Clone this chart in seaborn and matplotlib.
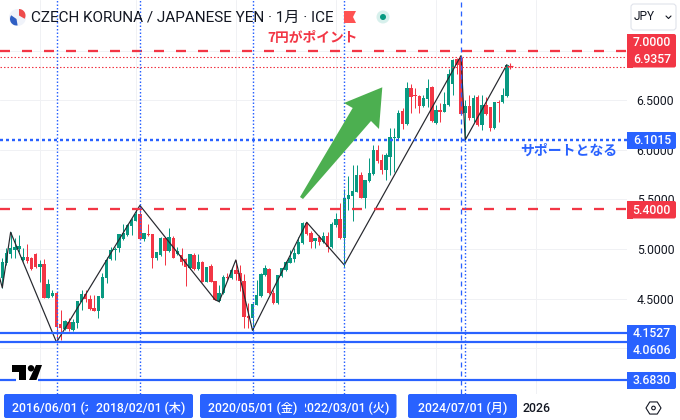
import numpy as np
import pandas as pd
import matplotlib
matplotlib.use("Agg")
import matplotlib.pyplot as plt
from matplotlib.patches import FancyBboxPatch, Polygon, Circle, Wedge, Rectangle
import seaborn as sns

months = pd.date_range("2015-05-01", periods=122, freq="MS")
opens = [4.71,4.86,4.95,4.99,5.00,4.89,4.92,4.91,4.95,4.82,4.85,4.51,4.53,4.56,4.24,4.19,4.26,4.18,4.25,4.47,
         4.55,4.50,4.41,4.38,4.51,4.71,4.90,4.99,5.01,5.10,5.14,5.23,5.28,5.35,5.10,5.15,5.15,4.91,4.94,5.11,
         4.98,5.11,4.95,4.94,4.90,4.81,4.94,4.80,4.87,4.67,4.83,4.68,4.48,4.56,4.72,4.71,4.79,4.76,4.68,4.32,
         4.31,4.44,4.53,4.74,4.80,4.56,4.46,4.73,4.79,4.86,4.90,4.95,5.06,5.26,5.16,5.08,5.12,5.07,5.13,5.02,
         5.24,5.30,5.11,5.50,5.54,5.58,5.75,5.51,5.69,5.76,6.00,5.90,5.80,5.93,6.12,6.12,6.39,6.26,6.62,6.55,
         6.54,6.44,6.51,6.63,6.27,6.40,6.38,6.45,6.66,6.92,6.93,6.37,6.44,6.32,6.53,6.25,6.45,6.43,6.22,6.48,
         6.48,6.54]
highs = [4.91,5.01,5.17,5.11,5.14,5.01,5.05,4.92,4.96,4.89,4.90,4.70,4.59,4.56,4.39,4.28,4.31,4.30,4.48,4.59,
         4.59,4.54,4.54,4.53,4.76,4.92,5.02,5.02,5.15,5.25,5.25,5.31,5.41,5.44,5.16,5.25,5.15,4.97,5.12,5.12,
         5.21,5.13,5.02,5.01,4.91,4.95,4.96,4.95,4.88,4.82,4.85,4.68,4.64,4.74,4.76,4.81,4.89,4.84,4.75,4.46,
         4.46,4.69,4.76,4.84,4.81,4.59,4.74,4.81,4.88,4.99,5.01,5.12,5.27,5.27,5.18,5.11,5.14,5.17,5.17,5.27,
         5.36,5.46,5.61,5.74,5.85,5.85,5.78,5.70,5.92,6.05,6.05,5.96,5.97,6.22,6.22,6.40,6.42,6.68,6.66,6.62,
         6.55,6.55,6.71,6.64,6.45,6.47,6.58,6.82,6.92,6.93,6.95,6.50,6.55,6.55,6.55,6.55,6.53,6.43,6.48,6.50,
         6.62,6.86]
lows = [4.61,4.84,4.91,4.91,4.97,4.88,4.86,4.79,4.81,4.67,4.51,4.51,4.52,4.05,4.08,4.18,4.17,4.17,4.20,4.39,
        4.47,4.39,4.38,4.31,4.51,4.66,4.89,4.89,4.97,5.09,5.13,5.14,5.28,5.10,5.08,5.13,4.81,4.89,4.93,4.84,
        4.97,4.91,4.94,4.84,4.63,4.80,4.79,4.79,4.67,4.67,4.67,4.49,4.47,4.55,4.69,4.70,4.69,4.58,4.20,4.20,
        4.17,4.44,4.52,4.73,4.55,4.45,4.45,4.72,4.78,4.86,4.87,4.95,5.05,5.14,5.01,5.01,5.04,5.06,4.97,5.01,
        5.22,5.10,4.82,5.39,5.28,5.58,5.51,5.41,5.68,5.75,5.87,5.76,5.70,5.75,5.78,6.11,6.21,6.25,6.37,6.42,
        6.37,6.43,6.43,6.28,6.26,6.28,6.38,6.44,6.55,6.77,6.35,6.10,6.30,6.28,6.24,6.20,6.35,6.19,6.21,6.28,
        6.47,6.53]
closes = [4.87,4.96,5.01,5.02,5.03,4.92,4.88,4.80,4.82,4.85,4.51,4.65,4.56,4.21,4.20,4.27,4.19,4.26,4.48,4.55,
          4.50,4.40,4.38,4.53,4.72,4.89,4.99,5.00,5.15,5.16,5.24,5.29,5.35,5.10,5.16,5.14,4.91,4.97,5.11,4.98,
          5.12,4.91,4.98,4.87,4.82,4.95,4.80,4.87,4.67,4.82,4.67,4.49,4.56,4.72,4.71,4.79,4.75,4.68,4.32,4.31,
          4.45,4.54,4.75,4.81,4.56,4.46,4.74,4.81,4.87,4.91,4.96,5.07,5.26,5.15,5.07,5.11,5.07,5.13,5.02,5.25,
          5.30,5.11,5.51,5.55,5.59,5.75,5.51,5.70,5.77,6.00,5.89,5.80,5.95,6.13,6.13,6.37,6.26,6.62,6.53,6.54,
          6.44,6.52,6.62,6.29,6.40,6.38,6.46,6.77,6.91,6.86,6.36,6.44,6.32,6.52,6.25,6.45,6.36,6.22,6.48,6.47,
          6.55,6.86]

zigzag_month = [-1, 0, 2, 13, 33, 51, 52, 56, 60, 73, 82, 110, 111, 121]
zigzag_price = [4.77, 4.61, 5.17, 4.06, 5.44, 4.49, 4.47, 4.89, 4.18, 5.27, 4.84, 6.95, 6.10, 6.86]

red_dashed = [7.0, 5.4]
red_dotted = [6.9357, 6.835]
blue_dotted = [6.1015]
blue_solid = [4.1527, 4.0606, 3.683]
marked_months = [13, 33, 60, 82, 111]
dashed_month = 110
y_ticks = [4.0, 4.5, 5.0, 5.5, 6.0, 6.5, 7.0]
y_tick_labels = ["", "4.5000", "5.0000", "5.5000", "6.0000", "6.5000", ""]
x_tick_months = [9, 32, 56, 80, 104, 128]
x_tick_labels = ["", "", "", "", "", "2026"]
date_labels = ["2016/06/01 (水)", "2018/02/01 (木)", "2020/05/01 (金)", "2022/03/01 (火)", "2024/07/01 (月)"]

RED, BLUE, UP, INK, GRID = "#f23645", "#2962ff", "#089981", "#131722", "#f0f1f4"

sns.set_theme(style="white")
plt.rcParams["font.family"] = ["Roboto", "Noto Sans CJK JP", "DejaVu Sans"]
plt.rcParams["lines.scale_dashes"] = False
PX = 0.72

fig = plt.figure(figsize=(6.8, 4.2), dpi=100, facecolor="white")
ax = fig.add_axes([0, 26 / 420, 627 / 680, 394 / 420])
for s in ax.spines.values():
    s.set_visible(False)

df = pd.DataFrame({"month": np.arange(len(months)), "o": opens, "h": highs, "l": lows, "c": closes})
df["up"] = df["c"] >= df["o"]
df["color"] = df["up"].map({True: UP, False: RED})
ax.vlines(df["month"], df["l"], df["h"], colors=df["color"], lw=1 * PX, zorder=3)
bot = df[["o", "c"]].min(axis=1)
hgt = (df["o"] - df["c"]).abs().clip(lower=0.012)
ax.bar(df["month"], hgt, bottom=bot, width=0.82, color=df["color"], linewidth=0, zorder=3)

zz = pd.DataFrame({"month": zigzag_month, "price": zigzag_price})
sns.lineplot(data=zz, x="month", y="price", sort=False, ax=ax, color="#26282e", lw=1.2 * PX, zorder=4, errorbar=None)
sns.scatterplot(x=[121.8], y=[6.85], ax=ax, marker="+", color=RED, s=14, linewidth=0.8, zorder=5)

for v in red_dashed:
    ax.axhline(v, color=RED, lw=2.3 * PX, ls=(0, (10 * PX, 12 * PX)), zorder=5)
for v in red_dotted:
    ax.axhline(v, color=RED, lw=1.1 * PX, ls=(0, (1.5 * PX, 2 * PX)), zorder=5)
for v in blue_dotted:
    ax.axhline(v, color=BLUE, lw=2.4 * PX, ls=(0, (3 * PX, 3 * PX)), zorder=5)
for v in blue_solid:
    ax.axhline(v, color=BLUE, lw=2.2 * PX, zorder=5)
for m in marked_months[:4]:
    ax.axvline(m, color=BLUE, lw=1.4 * PX, ls=(0, (1.5 * PX, 2 * PX)), zorder=5)
ax.axvline(marked_months[4], ymax=(6.1015 - 3.539) / (7.511 - 3.539), color=BLUE, lw=1.4 * PX,
           ls=(0, (1.5 * PX, 2 * PX)), zorder=5)
ax.axvline(dashed_month, color=BLUE, lw=1.3 * PX, ls=(0, (5 * PX, 4 * PX)), zorder=5)

ax.set_xlim(-0.55, 149.8)
ax.set_ylim(3.539, 7.511)
ax.set_xlabel("")
ax.set_ylabel("")
ax.yaxis.tick_right()
ax.set_yticks(y_ticks)
ax.set_yticklabels(y_tick_labels, fontsize=8.8, color=INK)
ax.set_xticks(x_tick_months)
ax.set_xticklabels(x_tick_labels, fontsize=8.8, color=INK, fontweight="medium")
ax.tick_params(axis="y", length=0, pad=7)
ax.tick_params(axis="x", length=0, pad=6)
ax.grid(True, color=GRID, lw=1 * PX, zorder=0)
ax.set_axisbelow(True)

ov = fig.add_axes([0, 0, 1, 1], facecolor="none")
ov.set_xlim(0, 680)
ov.set_ylim(420, 0)
ov.axis("off")

# arrow
ov.add_patch(Polygon([(300, 197), (352.7, 108), (344, 103), (382.3, 87.3), (379, 129), (371, 121), (303, 199)],
                     closed=True, fc="#4caf50", ec="none", zorder=6))

# header
ov.add_patch(Circle((17.5, 17.5), 8.5, fc="#f0f3fa", ec="none", zorder=6))
ov.add_patch(Wedge((16.5, 19), 6.5, 80, 215, fc="#2f5fc4", ec="none", zorder=7))
ov.add_patch(Wedge((19, 15.5), 6.5, 270, 30, fc="#ee4b4b", ec="none", zorder=7))
ov.text(31, 17.5, "CZECH KORUNA / JAPANESE YEN · 1月 · ICE", fontsize=10.95, color=INK, va="center", ha="left", zorder=7)
ov.add_patch(Polygon([(344, 11), (356, 11), (353, 17), (356, 23), (344, 23)], closed=True, fc="#ff5252", ec="none", zorder=7))
ov.add_patch(Circle((383, 17), 6.5, fc="#d7f0ec", ec="none", zorder=7))
ov.add_patch(Circle((383, 17), 3, fc=UP, ec="none", zorder=8))

# annotations
ov.text(312.5, 38, "7円がポイント", fontsize=9.9, color=RED, fontweight="bold", ha="center", va="center",
        family=["Noto Sans CJK JP"], zorder=7)
ov.text(569, 151, "サポートとなる", fontsize=10, color=BLUE, fontweight="bold", ha="center", va="center",
        family=["Noto Sans CJK JP"], zorder=7)

# price labels
def plabel(y0, y1, col, items):
    ov.add_patch(FancyBboxPatch((629, y0 + 2), 45, y1 - y0 - 4, boxstyle="round,pad=2,rounding_size=2",
                                fc=col, ec="none", zorder=8))
    ov.add_patch(Rectangle((627, y0), 6, y1 - y0, fc=col, ec="none", zorder=8))
    for y, t in items:
        ov.text(671, y, t, fontsize=8.8, color="white", ha="right", va="center", fontweight="medium", zorder=9)

plabel(34, 67.5, RED, [(42, "7.0000"), (59.5, "6.9357")])
plabel(132, 149, BLUE, [(140.5, "6.1015")])
plabel(201, 218.5, RED, [(210, "5.4000")])
plabel(325, 359, BLUE, [(333.5, "4.1527"), (351, "4.0606")])
plabel(372, 389, BLUE, [(380.5, "3.6830")])

# currency selector
ov.add_patch(FancyBboxPatch((633, 6), 41, 22, boxstyle="round,pad=2,rounding_size=3", fc="white", ec="#e0e3eb",
                            lw=0.8, zorder=8))
ov.text(634, 16.5, "JPY", fontsize=8.6, color=INK, ha="left", va="center", zorder=9)
ov.plot([666, 668.5, 671], [16, 18.5, 16], color=INK, lw=0.8, zorder=9)

# date labels
def dlabel(x0, x1, cx, text, z):
    ov.add_patch(FancyBboxPatch((x0 + 2, 396), x1 - x0 - 4, 20, boxstyle="round,pad=2,rounding_size=2",
                                fc=BLUE, ec="none", zorder=z))
    ov.text(cx, 408, text, fontsize=8.8, color="white", ha="center", va="center", fontweight="medium", zorder=z)

dlabel(4, 100, 56.5, date_labels[0], 10)
dlabel(88, 193, 140.5, date_labels[1], 11)
dlabel(292, 396.5, 344.5, date_labels[3], 12)
dlabel(200, 305, 252.5, date_labels[2], 13)
dlabel(408, 517, 462.5, date_labels[4], 12)

# watermark logo
ov.add_patch(Rectangle((16, 378), 22, 4, fc="white", ec="none", zorder=7))
ov.add_patch(Polygon([(12, 365), (26, 365), (26, 380), (19, 380), (19, 371.5), (12, 371.5)], closed=True, fc="#000000", ec="none", zorder=8))
ov.add_patch(Circle((31, 368.3), 3.2, fc="#000000", ec="none", zorder=8))
ov.add_patch(Polygon([(36, 365), (42, 365), (36.5, 380), (29, 380)], closed=True, fc="#000000", ec="none", zorder=8))

# settings icon
ang = np.deg2rad(np.arange(0, 360, 60))
ov.add_patch(Polygon(np.c_[653.5 + 7.5 * np.cos(ang), 408 + 7 * np.sin(ang)], closed=True, fc="white", ec=INK, lw=0.8, zorder=8))
ov.add_patch(Circle((653.5, 408), 1.8, fc="white", ec=INK, lw=0.8, zorder=9))

fig.savefig("out.png", dpi=100)
